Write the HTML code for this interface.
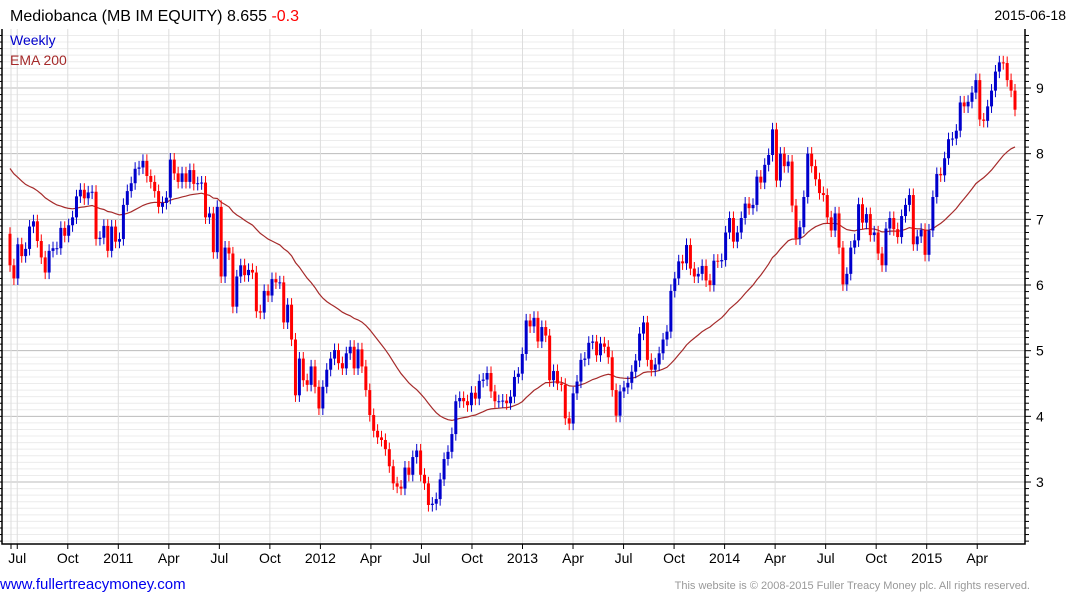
<!DOCTYPE html>
<html><head><meta charset="utf-8">
<style>
body{margin:0;background:#fff;width:1075px;height:600px;overflow:hidden;font-family:"Liberation Sans",sans-serif;}
svg{position:absolute;left:0;top:0}
</style></head>
<body>
<svg id="chart" width="1075" height="600">
  <text x="10" y="21" font-size="16" fill="#000">Mediobanca (MB IM EQUITY) 8.655 <tspan fill="#ff0000">-0.3</tspan></text>
  <text x="1066" y="20" font-size="14" fill="#000" text-anchor="end">2015-06-18</text>
  <g id="grid"></g>
  <g id="ema"></g>
  <g id="candles"></g>
  <g id="axes"></g>
  <text x="10" y="45" font-size="14" fill="#0000cc">Weekly</text>
  <text x="10" y="65" font-size="14" fill="#a52a2a">EMA 200</text>
  <text x="0" y="589" font-size="15" fill="#0000ee">www.fullertreacymoney.com</text>
  <text x="1030" y="589" font-size="11" fill="#999" text-anchor="end">This website is © 2008-2015 Fuller Treacy Money plc. All rights reserved.</text>
</svg>
<script>
const closes = [6.30,6.10,6.62,6.44,6.55,6.89,6.97,6.67,6.42,6.19,6.52,6.56,6.56,6.87,6.75,6.91,7.03,7.35,7.45,7.32,7.41,7.42,6.70,6.72,6.90,6.52,6.89,6.66,6.70,7.22,7.43,7.55,7.77,7.79,7.89,7.66,7.57,7.43,7.19,7.25,7.33,7.91,7.70,7.57,7.70,7.57,7.75,7.54,7.55,7.56,7.03,7.09,6.50,7.19,6.13,6.57,6.48,5.67,6.13,6.30,6.15,6.23,6.19,5.60,5.58,5.91,5.84,6.09,6.04,6.04,5.43,5.70,5.17,
4.32,4.88,4.55,4.48,4.76,4.45,4.12,4.45,4.71,4.88,5.01,4.81,4.73,4.96,5.06,4.73,5.02,4.76,4.40,4.02,3.78,3.68,3.64,3.50,3.24,2.98,2.93,2.90,3.22,3.11,3.38,3.48,3.11,2.98,2.65,2.67,2.74,3.04,3.35,3.46,3.73,4.23,4.28,4.23,4.17,4.36,4.27,4.54,4.56,4.66,4.38,4.23,4.23,4.24,4.20,4.30,4.60,4.65,4.95,5.46,5.37,5.50,5.14,5.36,5.23,4.55,4.69,4.50,
4.48,3.97,3.89,4.35,4.53,4.86,4.88,5.12,5.14,4.93,5.11,5.06,4.90,4.40,4.01,4.38,4.44,4.51,4.68,4.85,5.26,5.43,4.86,4.71,4.79,4.96,5.17,5.29,5.91,6.10,6.36,6.33,6.61,6.25,6.13,6.17,6.29,6.07,6.00,6.37,6.36,
6.38,6.80,7.02,6.66,6.80,7.02,7.24,7.17,7.22,7.65,7.56,7.83,7.98,8.37,7.59,8.00,7.81,7.88,7.21,6.71,6.88,7.34,8.00,7.81,7.61,7.40,7.37,7.03,6.83,7.09,6.57,6.01,6.17,6.57,6.68,7.23,6.95,7.08,6.76,6.80,6.48,6.30,6.86,7.02,6.85,6.73,7.05,7.22,7.37,6.62,6.74,6.84,6.46,6.83,7.34,7.69,7.67,7.93,8.22,8.23,8.35,8.78,8.72,8.79,8.93,9.12,8.52,8.50,8.72,8.96,9.25,9.39,9.38,9.12,8.96,8.67];
const firstOpen = 6.78;
const emaSeed = 7.85;
const wick = 0.1;
const yTicks = [3,4,5,6,7,8,9];
const xTickLabels = ["Jul","Oct","2011","Apr","Jul","Oct","2012","Apr","Jul","Oct","2013","Apr","Jul","Oct","2014","Apr","Jul","Oct","2015","Apr"];
const xTickMonths = [6,9,12,15,18,21,24,27,30,33,36,39,42,45,48,51,54,57,60,63]; // months since Jan 2010

const NS="http://www.w3.org/2000/svg";
const L=2,R=1025,T=29,B=544;
function y(v){return 88+(9-v)*65.67;}
function xi(i){return 10+i*(1015-10)/(closes.length-1);}
function xm(m){return 118.3+(m-12)*(926.7-118.3)/48;}
function mk(tag,attrs,parent){const e=document.createElementNS(NS,tag);for(const k in attrs)e.setAttribute(k,attrs[k]);parent.appendChild(e);return e;}
const grid=document.getElementById('grid'),axes=document.getElementById('axes'),cg=document.getElementById('candles'),eg=document.getElementById('ema');
// minor gridlines
for(let k=21;k<=99;k++){const v=k/10;const yy=y(v);if(yy<T||yy>B)continue;
  const ln=mk('line',{x1:L,x2:R,y1:yy,y2:yy,stroke:(k%10===0)?'#bbbbbb':'#ececec','stroke-width':1},grid);
  
  
  const tk=mk('line',{x1:R,x2:R+(k%10===0?6:4),y1:yy,y2:yy,stroke:'#000'},axes);
  
  
  const tl=mk('line',{x1:L-3,x2:L,y1:yy,y2:yy,stroke:'#000'},axes);
  
  
}
yTicks.forEach(v=>{const t=mk('text',{x:1036,y:y(v)+5,'font-size':14,fill:'#000'},axes);t.textContent=v;
  
  });
// vertical grid & x ticks
const g0=mk('line',{x1:11,x2:11,y1:T,y2:B+5,stroke:'#dddddd'},grid);


xTickMonths.forEach((m,i)=>{const xx=xm(m);
  const g=mk('line',{x1:xx,x2:xx,y1:T,y2:B,stroke:'#dddddd'},grid);
  
  
  const tk=mk('line',{x1:xx,x2:xx,y1:B,y2:B+5,stroke:'#000'},axes);
  
  
  const t=mk('text',{x:xx,y:563,'font-size':14,fill:'#000','text-anchor':'middle'},axes);t.textContent=xTickLabels[i];
  
  });
const tk0=mk('line',{x1:11,x2:11,y1:B,y2:B+5,stroke:'#000'},axes);


const frame=mk('path',{d:`M${L},${T} V${B} H${R} V${T}`,fill:'none',stroke:'#000','stroke-width':1.5},axes);


// EMA
let e=emaSeed,a=2/41,pts=[];
closes.forEach((c,i)=>{e=e+a*(c-e);pts.push(xi(i).toFixed(1)+','+y(e).toFixed(1));});
const pl=mk('polyline',{points:pts.join(' '),fill:'none',stroke:'#a52a2a','stroke-width':1.2},eg);


// candles
closes.forEach((c,i)=>{const o=i===0?firstOpen:closes[i-1];const col=c>=o?'#0000cc':'#ff0000';
  const hi=Math.max(o,c)+wick,lo=Math.min(o,c)-wick,xx=xi(i);
  const w=mk('line',{x1:xx,x2:xx,y1:y(hi),y2:y(lo),stroke:col,'stroke-width':1},cg);
  
  
  const top=y(Math.max(o,c)),bot=y(Math.min(o,c));
  const b=mk('rect',{x:xx-1.5,y:top,width:3,height:Math.max(1,bot-top),fill:col},cg);
  
  
});
</script>
</body></html>
